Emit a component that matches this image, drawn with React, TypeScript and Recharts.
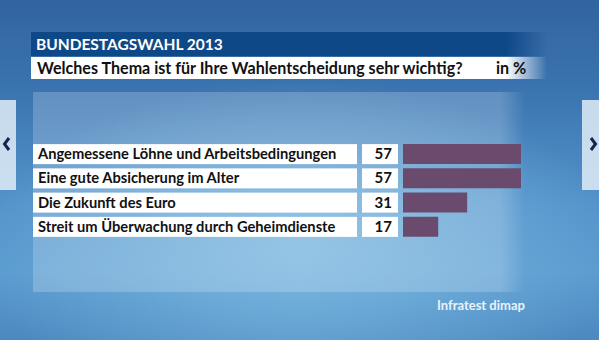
import React from "react";
import { BarChart, Bar, XAxis, YAxis } from "recharts";

const topics = [
  "Angemessene Löhne und Arbeitsbedingungen",
  "Eine gute Absicherung im Alter",
  "Die Zukunft des Euro",
  "Streit um Überwachung durch Geheimdienste",
];
const shares = [57, 57, 31, 17];

const headline = "BUNDESTAGSWAHL 2013";
const question = "Welches Thema ist für Ihre Wahlentscheidung sehr wichtig?";
const unit = "in %";
const source = "Infratest dimap";

const data = topics.map((label, i) => ({ label, value: shares[i] }));

const FONT = "Lato, 'Open Sans', sans-serif";
const BAR_COLOR = "#6a4b6e";

// label box + value box drawn left of the bar start (tick x = axis right edge)
// eslint-disable-next-line @typescript-eslint/no-explicit-any
function RowTick({ x, y, payload }: any) {
  const v = shares[payload.index];
  return (
    <g>
      <rect x={x - 370} y={y - 10} width={324} height={20} fill="#ffffff" />
      <text x={x - 365} y={y + 5} fontFamily={FONT} fontWeight={700} fontSize={14.7} fill="#111">
        {payload.value}
      </text>
      <rect x={x - 41} y={y - 10} width={36} height={20} fill="#ffffff" />
      <text x={x - 11} y={y + 5} textAnchor="end" fontFamily={FONT} fontWeight={700} fontSize={15} fill="#111">
        {v}
      </text>
    </g>
  );
}

function Chevron({ left }: { left: boolean }) {
  return (
    <svg width={12} height={16} style={{ position: "absolute", top: 136, left: left ? 1 : 587 }}>
      <polyline
        points={left ? "8,2 3.5,8 8,14" : "4,2 8.5,8 4,14"}
        fill="none"
        stroke="#14264c"
        strokeWidth={3}
      />
    </svg>
  );
}

export default function App() {
  return (
    <div
      style={{
        position: "absolute",
        left: 0,
        top: 0,
        width: 599,
        height: 340,
        overflow: "hidden",
        fontFamily: FONT,
        background:
          "radial-gradient(ellipse 320px 170px at 300px 250px, #7ab7e0 0%, rgba(110,170,215,0) 100%), linear-gradient(180deg, #3164a0 0%, #3a73af 25%, #5393ca 60%, #5a9bcf 80%, #4d89c0 100%)",
      }}
    >
      {/* header bars */}
      <div
        style={{
          position: "absolute", left: 31, top: 32, width: 516, height: 24,
          background: "linear-gradient(90deg, #0f4886 0%, #0f4886 92%, rgba(15,72,134,0) 100%)",
        }}
      />
      <div
        style={{
          position: "absolute", left: 36, top: 33, color: "#fff", fontWeight: 700,
          fontSize: 15.5, lineHeight: "22px",
        }}
      >
        {headline}
      </div>
      <div
        style={{
          position: "absolute", left: 31, top: 57, width: 516, height: 22,
          background: "linear-gradient(90deg, #fff 0%, #fff 92%, rgba(255,255,255,0) 100%)",
        }}
      />
      <div
        style={{
          position: "absolute", left: 37, top: 57, color: "#111", fontWeight: 700,
          fontSize: 16.1, lineHeight: "22px", whiteSpace: "nowrap",
        }}
      >
        {question}
        <span style={{ position: "absolute", left: 459 }}>{unit}</span>
      </div>

      {/* light panel */}
      <div
        style={{
          position: "absolute", left: 33, top: 92, width: 492, height: 200,
          background: "linear-gradient(90deg, rgba(255,255,255,0.2) 0%, rgba(255,255,255,0.2) 95%, rgba(255,255,255,0) 100%)",
        }}
      />

      {/* side tabs */}
      <div style={{ position: "absolute", left: 0, top: 100, width: 16, height: 90, background: "rgba(225,236,247,0.85)" }} />
      <div style={{ position: "absolute", left: 582, top: 100, width: 17, height: 90, background: "rgba(225,236,247,0.85)" }} />
      <Chevron left />
      <Chevron left={false} />

      <div
        style={{
          position: "absolute", left: 437, top: 297, color: "#e8f2fb", fontWeight: 700,
          fontSize: 13, lineHeight: "16px",
        }}
      >
        {source}
      </div>

      <div style={{ position: "absolute", left: 0, top: 0 }}>
        <BarChart
          width={599}
          height={340}
          data={data}
          layout="vertical"
          margin={{ top: 142, right: 78, bottom: 101, left: 33 }}
          barCategoryGap={2}
        >
          <XAxis type="number" domain={[0, 57]} hide />
          <YAxis
            type="category"
            dataKey="label"
            width={370}
            tickLine={false}
            axisLine={false}
            tickSize={0}
            tickMargin={0}
            tick={<RowTick />}
            interval={0}
          />
          <Bar dataKey="value" fill={BAR_COLOR} barSize={20} isAnimationActive={false} />
        </BarChart>
      </div>
    </div>
  );
}
